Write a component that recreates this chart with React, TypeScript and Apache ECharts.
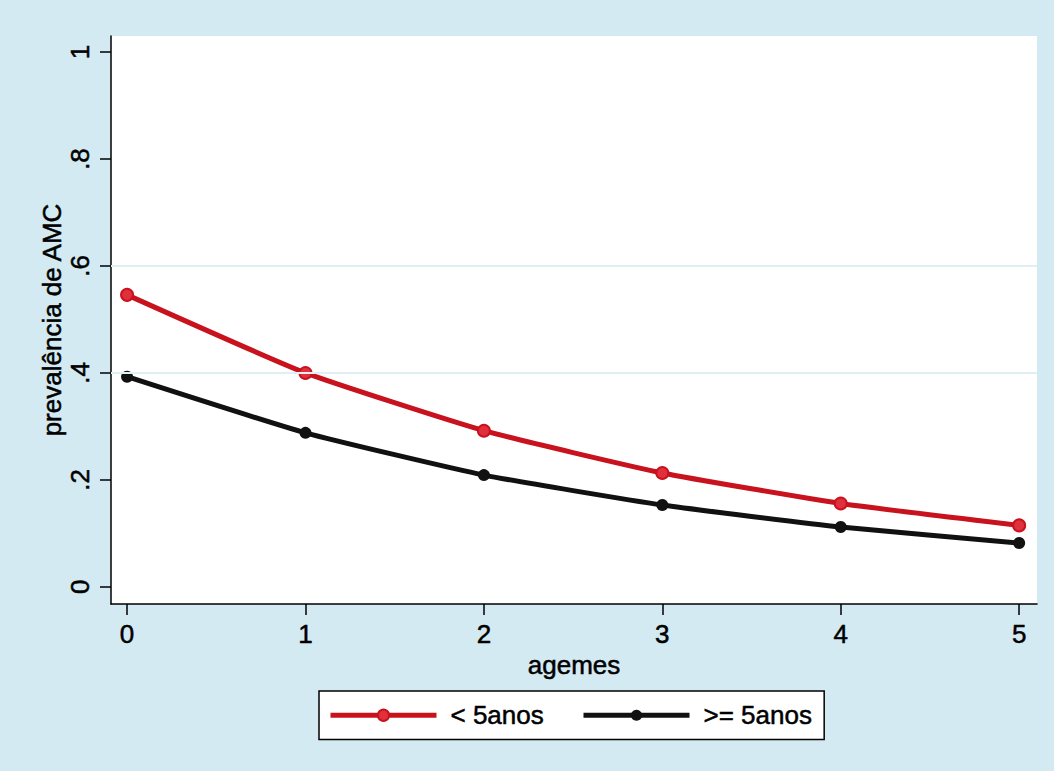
import React, { useEffect, useRef } from "react";
import * as echarts from "echarts";

const xValues = [0, 1, 2, 3, 4, 5];
const under5 = [0.546, 0.4, 0.292, 0.213, 0.156, 0.115];
const over5 = [0.393, 0.288, 0.209, 0.153, 0.112, 0.082];
const yTicks = [0, 0.2, 0.4, 0.6, 0.8, 1];
const gridValues = [0.4, 0.6];
const seriesNames = ["< 5anos", ">= 5anos"];

const fmtY = (v: number) => {
  if (Math.abs(v) < 1e-9) return "0";
  if (Math.abs(v - 1) < 1e-9) return "1";
  return String(Math.round(v * 10) / 10).replace(/^0/, "");
};

export default function App() {
  const ref = useRef<HTMLDivElement>(null);
  useEffect(() => {
    if (!ref.current) return;
    const chart = echarts.init(ref.current, null, { renderer: "svg" });
    const font = "'Liberation Sans', Arial, Helvetica, sans-serif";
    const txt = {
      fontFamily: font,
      color: "#000",
      textBorderColor: "#000",
      textBorderWidth: 0.5,
    };
    chart.setOption({
      animation: false,
      backgroundColor: "#d3eaf2",
      textStyle: { fontFamily: font, color: "#000" },
      grid: {
        left: 111,
        top: 36,
        right: 17,
        bottom: 167,
        show: true,
        backgroundColor: "#ffffff",
        borderWidth: 0,
      },
      xAxis: {
        type: "value",
        min: -0.09,
        max: 5.1,
        name: "agemes",
        nameLocation: "middle",
        nameGap: 42,
        nameTextStyle: { ...txt, fontSize: 26 },
        axisLine: { show: true, onZero: false, lineStyle: { color: "#000", width: 1.5 } },
        axisTick: { show: true, length: 11, customValues: xValues, lineStyle: { color: "#000", width: 1.5 } },
        axisLabel: {
          ...txt,
          customValues: xValues,
          fontSize: 26,
          margin: 17,
          formatter: (v: number) => String(v),
        },
        splitLine: { show: false },
      },
      yAxis: {
        type: "value",
        min: -0.032,
        max: 1.03,
        name: "prevalência de AMC",
        nameLocation: "middle",
        nameGap: 46,
        nameMoveOverlap: false,
        nameTextStyle: { ...txt, fontSize: 26 },
        axisLine: { show: true, onZero: false, lineStyle: { color: "#000", width: 1.5 } },
        axisTick: { show: true, length: 11, customValues: yTicks, lineStyle: { color: "#000", width: 1.5 } },
        axisLabel: {
          ...txt,
          customValues: yTicks,
          rotate: 90,
          fontSize: 26,
          margin: 18,
          formatter: (v: number) => fmtY(v),
        },
        splitLine: { show: false },
      },
      legend: {
        left: 319,
        top: 691,
        orient: "horizontal",
        backgroundColor: "#ffffff",
        borderColor: "#000",
        borderWidth: 1.5,
        borderRadius: 0,
        padding: [11, 12, 11, 9],
        itemWidth: 106,
        itemHeight: 14,
        itemGap: 37,
        lineStyle: { width: 5 },
        textStyle: { ...txt, fontSize: 26, padding: [0, 0, 0, 9] },
        data: seriesNames,
      },
      series: [
        {
          name: seriesNames[0],
          type: "line",
          data: xValues.map((x, i) => [x, under5[i]]),
          smooth: 0.15,
          symbol: "circle",
          symbolSize: 12,
          lineStyle: { color: "#c8121e", width: 5 },
          itemStyle: { color: "#e0303c", borderColor: "#c8121e", borderWidth: 2 },
          markLine: {
            silent: true,
            symbol: "none",
            label: { show: false },
            lineStyle: { color: "#e0eff4", width: 2, type: "solid" },
            data: gridValues.map((v) => ({ yAxis: v })),
          },
          z: 3,
        },
        {
          name: seriesNames[1],
          type: "line",
          data: xValues.map((x, i) => [x, over5[i]]),
          smooth: 0.15,
          symbol: "circle",
          symbolSize: 12,
          lineStyle: { color: "#111111", width: 5 },
          itemStyle: { color: "#111111" },
          z: 3,
        },
      ],
    });
    return () => chart.dispose();
  }, []);
  return (
    <div
      ref={ref}
      style={{ position: "fixed", left: 0, top: 0, width: 1054, height: 771 }}
    />
  );
}
